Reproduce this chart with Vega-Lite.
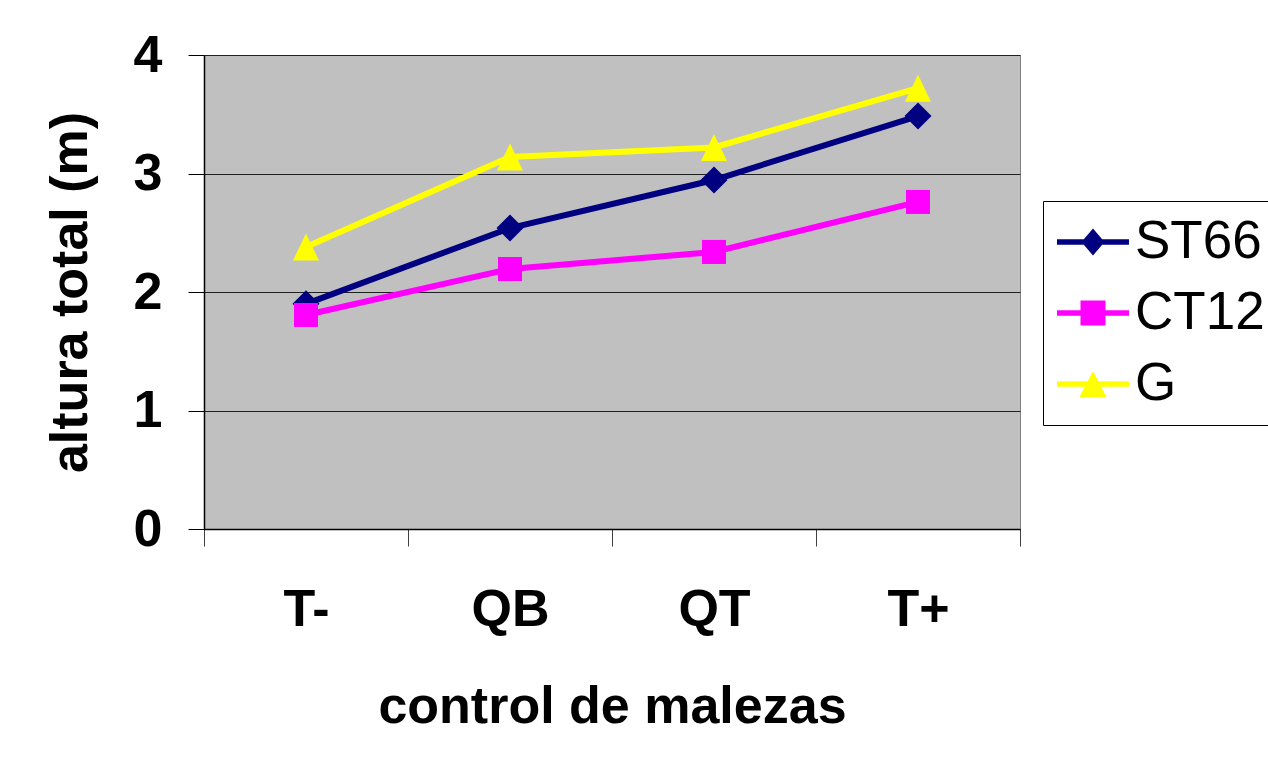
{
  "$schema": "https://vega.github.io/schema/vega-lite/v6.json",
  "width": 816,
  "height": 474,
  "autosize": {"type": "none"},
  "padding": {"left": 204, "top": 55, "right": 248, "bottom": 233},
  "background": "white",
  "config": {
    "view": {"fill": "#C0C0C0", "stroke": "#808080", "strokeWidth": 1},
    "font": "Liberation Sans"
  },
  "data": {
    "values": [
      {"control": "T-", "serie": "ST66", "altura": 1.90},
      {"control": "QB", "serie": "ST66", "altura": 2.54},
      {"control": "QT", "serie": "ST66", "altura": 2.945},
      {"control": "T+", "serie": "ST66", "altura": 3.485},
      {"control": "T-", "serie": "CT12", "altura": 1.806},
      {"control": "QB", "serie": "CT12", "altura": 2.194},
      {"control": "QT", "serie": "CT12", "altura": 2.338},
      {"control": "T+", "serie": "CT12", "altura": 2.76},
      {"control": "T-", "serie": "G", "altura": 2.38},
      {"control": "QB", "serie": "G", "altura": 3.14},
      {"control": "QT", "serie": "G", "altura": 3.22},
      {"control": "T+", "serie": "G", "altura": 3.72}
    ]
  },
  "encoding": {
    "x": {
      "field": "control",
      "type": "nominal",
      "sort": ["T-", "QB", "QT", "T+"],
      "scale": {"type": "band", "paddingInner": 0, "paddingOuter": 0},
      "axis": {
        "title": "control de malezas",
        "titleFontSize": 52,
        "titleFontWeight": "bold",
        "titleColor": "black",
        "titlePadding": 46,
        "labelFontSize": 52,
        "labelFontWeight": "bold",
        "labelColor": "black",
        "labelPadding": 38,
        "labelAngle": 0,
        "tickSize": 17,
        "tickColor": "#404040",
        "tickBand": "extent",
        "domainColor": "black",
        "domainWidth": 1.5,
        "grid": false
      }
    },
    "y": {
      "field": "altura",
      "type": "quantitative",
      "scale": {"domain": [0, 4], "nice": false, "zero": true},
      "axis": {
        "title": "altura total (m)",
        "values": [0, 1, 2, 3, 4],
        "format": "d",
        "titleFontSize": 52,
        "titleFontWeight": "bold",
        "titleColor": "black",
        "titlePadding": 36,
        "labelFontSize": 52,
        "labelFontWeight": "bold",
        "labelColor": "black",
        "labelPadding": 26,
        "tickSize": 16,
        "tickColor": "black",
        "domainColor": "black",
        "domainWidth": 1.5,
        "grid": true,
        "gridColor": "#202020",
        "gridWidth": 1,
        "gridOpacity": 1
      }
    }
  },
  "layer": [
    {
      "mark": {"type": "line", "strokeWidth": 6},
      "encoding": {
        "color": {
          "field": "serie",
          "type": "nominal",
          "scale": {"domain": ["ST66", "CT12", "G"], "range": ["#000080", "#FF00FF", "#FFFF00"]},
          "legend": null
        }
      }
    },
    {
      "mark": {"type": "point", "filled": true, "opacity": 1, "strokeWidth": 0},
      "encoding": {
        "color": {
          "field": "serie",
          "type": "nominal",
          "scale": {"domain": ["ST66", "CT12", "G"], "range": ["#000080", "#FF00FF", "#FFFF00"]},
          "legend": null
        },
        "shape": {
          "field": "serie",
          "type": "nominal",
          "scale": {
            "domain": ["ST66", "CT12", "G"],
            "range": ["M0,-1L1,0L0,1L-1,0Z", "M-0.89,-0.89H0.89V0.89H-0.89Z", "M0,-1L0.96,1H-0.96Z"]
          },
          "legend": null
        },
        "size": {"value": 729}
      }
    },
    {
      "mark": {"type": "point", "filled": true, "strokeWidth": 0},
      "encoding": {
        "color": {
          "field": "serie",
          "type": "nominal",
          "scale": {"domain": ["ST66", "CT12", "G"], "range": ["#000080", "#FF00FF", "#FFFF00"]},
          "legend": {
            "title": null,
            "orient": "none",
            "legendX": 839,
            "legendY": 146,
            "padding": 14,
            "labelOffset": 24,
            "rowPadding": 17,
            "labelFontSize": 53,
            "labelFont": "Liberation Sans",
            "labelFontWeight": "normal",
            "labelColor": "black",
            "strokeColor": "black",
            "fillColor": "white",
            "symbolSize": 2916,
            "symbolStrokeWidth": 0,
            "symbolOpacity": 1,
            "encode": {"symbols": {"update": {"opacity": {"value": 1}}}}
          }
        },
        "shape": {
          "field": "serie",
          "type": "nominal",
          "scale": {
            "domain": ["ST66", "CT12", "G"],
            "range": [
              "M-1,-0.1H1.667V0.1H-1ZM0.333,-0.5L0.759,0L0.333,0.5L-0.093,0Z",
              "M-1,-0.1H1.667V0.1H-1ZM-0.13,-0.463H0.796V0.463H-0.13Z",
              "M-1,-0.1H1.667V0.1H-1ZM0.333,-0.48L0.833,0.48H-0.167Z"
            ]
          },
          "legend": {
            "title": null,
            "orient": "none",
            "legendX": 839,
            "legendY": 146,
            "padding": 14,
            "labelOffset": 24,
            "rowPadding": 17,
            "labelFontSize": 53,
            "labelFont": "Liberation Sans",
            "labelFontWeight": "normal",
            "labelColor": "black",
            "strokeColor": "black",
            "fillColor": "white",
            "symbolSize": 2916,
            "symbolStrokeWidth": 0,
            "symbolOpacity": 1,
            "encode": {"symbols": {"update": {"opacity": {"value": 1}}}}
          }
        },
        "opacity": {"value": 0}
      }
    }
  ],
  "resolve": {
    "scale": {"color": "independent", "shape": "independent"},
    "legend": {"color": "independent", "shape": "independent"}
  }
}
